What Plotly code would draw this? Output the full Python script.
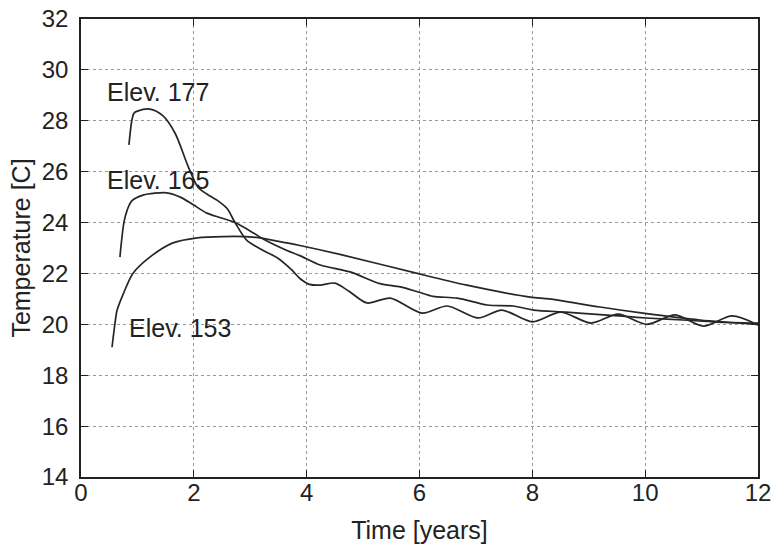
import plotly.graph_objects as go

# Elev. 177
t177 = [0.85, 0.9, 0.94, 1.0, 1.22, 1.45, 1.67, 1.9, 2.07, 2.23, 2.41, 2.59, 2.73, 2.94,
        3.23, 3.49, 3.74, 3.88, 4.05, 4.24, 4.5, 4.75, 5.07, 5.48, 6.05, 6.49, 7.04, 7.46,
        8.0, 8.5, 9.04, 9.52, 10.03, 10.53, 11.03, 11.54, 12.0]
T177 = [27.05, 28.0, 28.3, 28.38, 28.46, 28.2, 27.5, 26.2, 25.4, 25.12, 24.88, 24.55, 24.0, 23.3,
        22.9, 22.6, 22.13, 21.8, 21.57, 21.54, 21.62, 21.3, 20.84, 21.03, 20.44, 20.72, 20.25, 20.56,
        20.1, 20.48, 20.05, 20.4, 20.0, 20.37, 19.93, 20.33, 19.97]

# Elev. 165
t165 = [0.69, 0.72, 0.76, 0.82, 0.9, 1.1, 1.52, 1.76, 1.99, 2.23, 2.46, 2.73, 3.05, 3.23,
        3.65, 3.88, 4.24, 4.77, 5.3, 5.66, 5.98, 6.24, 6.67, 7.2, 7.66, 8.02, 8.6, 9.2,
        9.6, 10.09, 10.67, 11.28, 12.0]
T165 = [22.64, 23.3, 24.0, 24.5, 24.85, 25.08, 25.17, 25.0, 24.7, 24.37, 24.2, 24.0, 23.6, 23.35,
        22.9, 22.7, 22.33, 22.06, 21.6, 21.47, 21.27, 21.1, 21.03, 20.76, 20.72, 20.56, 20.48, 20.38,
        20.32, 20.24, 20.17, 20.09, 20.05]

# Elev. 153
t153 = [0.55, 0.6, 0.64, 0.75, 0.92, 1.22, 1.63, 2.06, 2.52, 3.05, 3.65, 3.88, 4.59, 5.96,
        6.84, 7.96, 8.3, 9.2, 9.96, 10.97, 12.0]
T153 = [19.1, 20.0, 20.56, 21.2, 22.0, 22.64, 23.2, 23.4, 23.45, 23.43, 23.2, 23.1, 22.75, 22.0,
        21.54, 21.07, 21.0, 20.68, 20.44, 20.17, 20.0]

labels = ["Elev. 177", "Elev. 165", "Elev. 153"]

x_ticks = [0, 2, 4, 6, 8, 10, 12]
y_ticks = [14, 16, 18, 20, 22, 24, 26, 28, 30, 32]

FONT = "Liberation Sans, Arial, Helvetica, sans-serif"
LINE = "#262626"
FS = 25
TFS = 24

fig = go.Figure()
for tx, ty, name in [(t177, T177, labels[0]), (t165, T165, labels[1]), (t153, T153, labels[2])]:
    fig.add_trace(go.Scatter(x=tx, y=ty, mode="lines", name=name,
                             line=dict(color=LINE, width=1.7, shape="spline", smoothing=0.8),
                             showlegend=False, hoverinfo="skip"))

ann_pos = [(0.42, 29.13), (0.43, 25.67), (0.82, 19.85)]
for (ax, ay), txt in zip(ann_pos, labels):
    fig.add_annotation(x=ax, y=ay, text=txt, xanchor="left", yanchor="middle",
                       showarrow=False, font=dict(family=FONT, size=FS, color="#222"))

axis_common = dict(showline=True, linecolor="#222", linewidth=1.5, mirror="ticks",
                   ticks="inside", ticklen=7, tickwidth=1.3, tickcolor="#222",
                   showgrid=True, gridcolor="#9a9a9a", gridwidth=1, griddash="dot",
                   zeroline=False, automargin=False,
                   tickfont=dict(family=FONT, size=TFS, color="#222"))

fig.update_xaxes(range=[0, 12], tickvals=x_ticks, ticktext=[str(v) for v in x_ticks],
                 title=dict(text="Time [years]", font=dict(family=FONT, size=FS, color="#222"),
                            standoff=20),
                 ticklabelstandoff=-7, **axis_common)
fig.update_yaxes(range=[14, 32], tickvals=y_ticks, ticktext=[str(v) for v in y_ticks],
                 title=dict(text="Temperature [C]", font=dict(family=FONT, size=FS, color="#222"),
                            standoff=4),
                 ticklabelstandoff=6, **axis_common)

fig.update_layout(width=773, height=544, margin=dict(l=81, r=15, t=19, b=67),
                  plot_bgcolor="white", paper_bgcolor="white",
                  font=dict(family=FONT, size=FS, color="#222"))

fig.write_html("out.html")
